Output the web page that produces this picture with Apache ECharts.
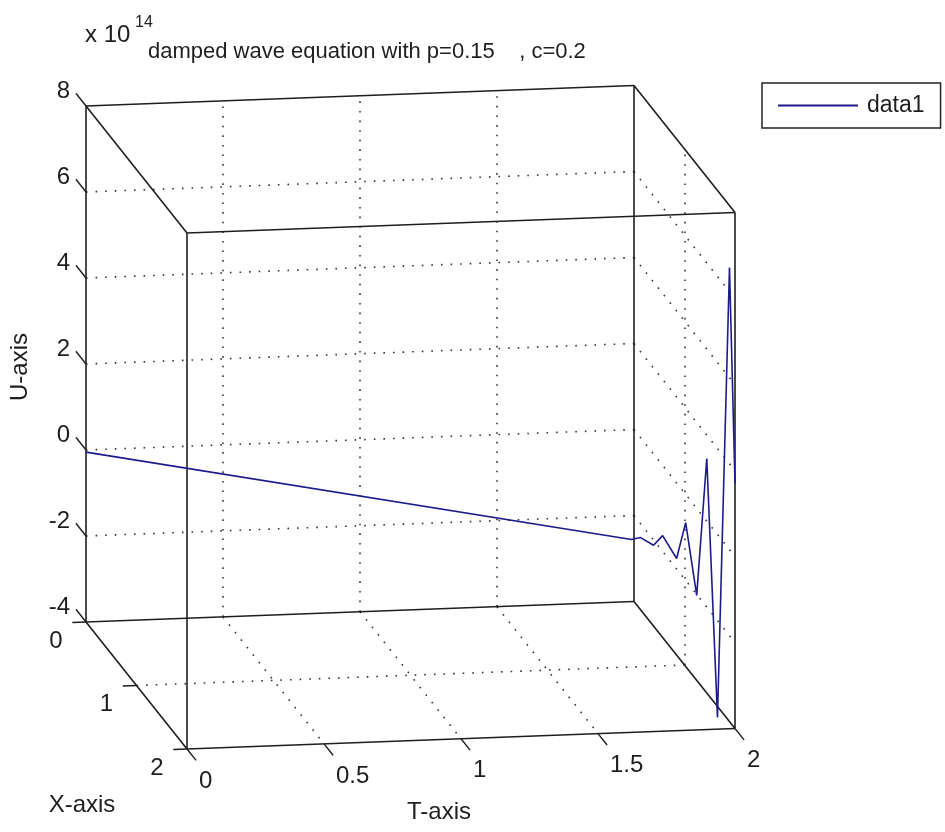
<!DOCTYPE html>
<html>
<head>
<meta charset="utf-8">
<script src="https://cdn.jsdelivr.net/npm/echarts@6/dist/echarts.min.js"></script>
<style>
html,body{margin:0;padding:0;background:#ffffff;}
#chart{width:945px;height:832px;}
</style>
</head>
<body>
<div id="chart"></div>
<script>
// ---------------- data ----------------
// curve samples: T, X and U (U in units of 1e14)
const tValues = [0, 1.681, 1.709, 1.749, 1.777, 1.820, 1.848, 1.882, 1.913, 1.946, 1.983, 2.0];
const xValues = [0, 1.681, 1.709, 1.749, 1.777, 1.820, 1.848, 1.882, 1.913, 1.946, 1.983, 2.0];
const uValues = [-0.05, 0.00, 0.08, -0.05, 0.21, -0.27, 0.60, -1.05, 2.17, -3.81, 6.70, 1.70];

const tTicks = [0, 0.5, 1, 1.5, 2];
const xTicks = [0, 1, 2];
const uTicks = [-4, -2, 0, 2, 4, 6, 8];
const tTickLabels = ['0', '0.5', '1', '1.5', '2'];
const xTickLabels = ['0', '1', '2'];
const uTickLabels = ['-4', '-2', '0', '2', '4', '6', '8'];

const tRange = [0, 2];
const xRange = [0, 2];
const uRange = [-4, 8];

const titleText = 'damped wave equation with p=0.15    , c=0.2';
const seriesName = 'data1';

// ---------------- view (orthographic projection of the 3-D box) ----------------
const ORIGIN = [86, 622];          // screen point of (tMin, xMin, uMin)
const E_T = [274, -10.25];         // screen step per unit of T
const E_X = [50.5, 63.5];          // screen step per unit of X
const E_U = [0, -43];              // screen step per unit of U
function P(t, x, u) {
  const dt = t - tRange[0], dx = x - xRange[0], du = u - uRange[0];
  return [ORIGIN[0] + E_T[0] * dt + E_X[0] * dx + E_U[0] * du,
          ORIGIN[1] + E_T[1] * dt + E_X[1] * dx + E_U[1] * du];
}

const FONT = '"Liberation Sans", Arial, Helvetica, sans-serif';
const INK = '#1e1e1e';
const LINE_COLOR = '#1b1b8c';

const [t0, t1] = tRange, [x0, x1] = xRange, [u0, u1] = uRange;

// grid lines (dotted) on the back planes
const gridSegs = [];
tTicks.filter(v => v > t0 && v < t1).forEach(t => {
  gridSegs.push([P(t, x0, u0), P(t, x0, u1)]);   // back wall vertical
  gridSegs.push([P(t, x0, u0), P(t, x1, u0)]);   // floor
});
uTicks.filter(v => v > u0 && v < u1).forEach(u => {
  gridSegs.push([P(t0, x0, u), P(t1, x0, u)]);   // back wall horizontal
  gridSegs.push([P(t1, x0, u), P(t1, x1, u)]);   // side wall
});
xTicks.filter(v => v > x0 && v < x1).forEach(x => {
  gridSegs.push([P(t0, x, u0), P(t1, x, u0)]);   // floor
  gridSegs.push([P(t1, x, u0), P(t1, x, u1)]);   // side wall vertical
});

// box edges
const boxSegs = [];
[x0, x1].forEach(x => [u0, u1].forEach(u => boxSegs.push([P(t0, x, u), P(t1, x, u)])));
[t0, t1].forEach(t => [u0, u1].forEach(u => boxSegs.push([P(t, x0, u), P(t, x1, u)])));
[t0, t1].forEach(t => [x0, x1].forEach(x => boxSegs.push([P(t, x, u0), P(t, x, u1)])));

// tick marks
const tickSegs = [];
uTicks.forEach(u => tickSegs.push([P(t0, x0, u), P(t0, x0 - 0.2, u)]));
xTicks.forEach(x => tickSegs.push([P(t0, x, u0), P(t0 - 0.05, x, u0)]));
tTicks.forEach(t => tickSegs.push([P(t, x1, u0), P(t, x1 + 0.18, u0)]));

// text
const texts = [];
function txt(x, y, s, size, align, vAlign, rot) {
  texts.push({
    type: 'text', x: x, y: y, rotation: rot || 0, silent: true, z: 20,
    style: { text: s, font: size + 'px ' + FONT, fill: INK,
             textAlign: align, textVerticalAlign: vAlign, align: align, verticalAlign: vAlign }
  });
}
uTicks.forEach((u, i) => { const p = P(t0, x0, u); txt(p[0] - 16, p[1] - 15, uTickLabels[i], 24, 'right', 'middle'); });
xTicks.forEach((x, i) => { const p = P(t0, x, u0); txt(p[0] - 30, p[1] + 19, xTickLabels[i], 24, 'center', 'middle'); });
tTicks.forEach((t, i) => { const p = P(t, x1, u0); txt(p[0] + 12, p[1] + 32, tTickLabels[i], 24, 'left', 'middle'); });

txt(148, 52, titleText, 22, 'left', 'middle');
txt(85, 35, 'x 10', 24, 'left', 'middle');
txt(135, 23, '14', 16, 'left', 'middle');
txt(20, 367, 'U-axis', 24, 'center', 'middle', Math.PI / 2);
txt(82, 805, 'X-axis', 24, 'center', 'middle');
txt(439, 812, 'T-axis', 24, 'center', 'middle');

const curve = tValues.map((t, i) => P(t, xValues[i], uValues[i]));

const chart = echarts.init(document.getElementById('chart'), null, { renderer: 'canvas' });
chart.setOption({
  animation: false,
  backgroundColor: '#ffffff',
  grid: { left: 0, right: 0, top: 0, bottom: 0, containLabel: false },
  xAxis: { type: 'value', min: 0, max: 945, show: false },
  yAxis: { type: 'value', min: 0, max: 832, inverse: true, show: false },
  legend: {
    data: [{ name: seriesName, icon: 'rect' }], left: 762, top: 83, orient: 'horizontal',
    backgroundColor: '#ffffff', borderColor: '#222', borderWidth: 1.5, borderRadius: 0,
    padding: [11, 16, 11, 16], itemWidth: 80, itemHeight: 2, selectedMode: false,
    itemStyle: { color: LINE_COLOR },
    textStyle: { fontSize: 23, color: INK, fontFamily: FONT, padding: [0, 0, 0, 4] }
  },
  graphic: texts,
  series: [
    { type: 'lines', coordinateSystem: 'cartesian2d', silent: true, z: 1,
      data: gridSegs.map(s => ({ coords: s })),
      lineStyle: { color: '#333', width: 1.6, type: [1.6, 8], opacity: 1 } },
    { type: 'lines', coordinateSystem: 'cartesian2d', silent: true, z: 2,
      data: boxSegs.map(s => ({ coords: s })),
      lineStyle: { color: '#1e1e1e', width: 1.6, type: 'solid', opacity: 1 } },
    { type: 'lines', coordinateSystem: 'cartesian2d', silent: true, z: 2,
      data: tickSegs.map(s => ({ coords: s })),
      lineStyle: { color: '#1e1e1e', width: 1.4, type: 'solid', opacity: 1 } },
    { type: 'line', name: seriesName, data: curve, symbol: 'none', showSymbol: false, z: 5,
      lineStyle: { color: LINE_COLOR, width: 1.6 }, itemStyle: { color: LINE_COLOR } }
  ]
});
</script>
</body>
</html>
